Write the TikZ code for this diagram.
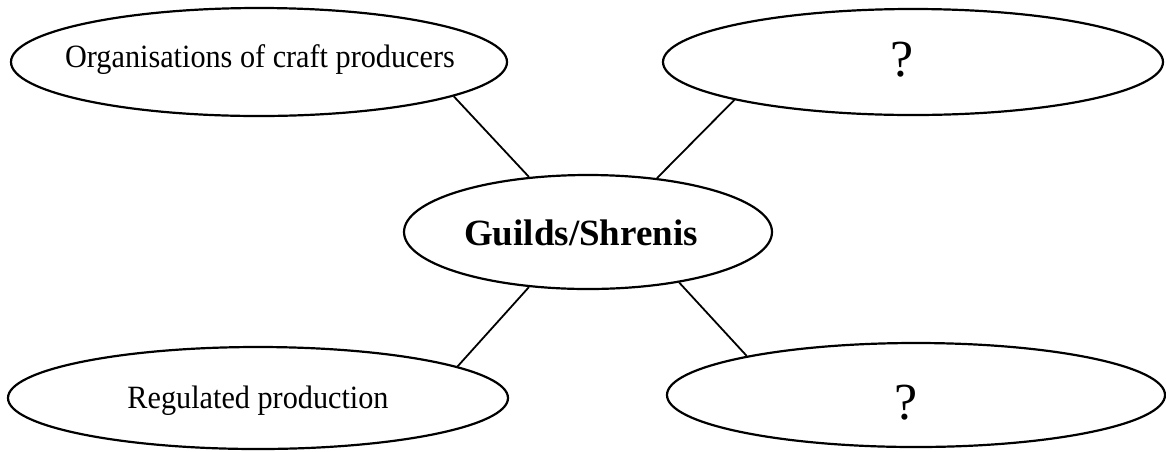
\documentclass[tikz,border=0pt]{standalone}
\usepackage{fontspec}
\setmainfont{Liberation Serif}
\usetikzlibrary{shapes.geometric}
\newcommand{\condensed}[1]{\scalebox{0.93}[1]{#1}}
\begin{document}
\begin{tikzpicture}[x=1pt,y=-1pt,
  oval/.style={draw=black, line width=2.2pt, ellipse, inner sep=0pt, fill=white},
  conn/.style={draw=black, line width=1.8pt},
  lbl/.style={inner sep=0pt, anchor=base, font=\fontsize{32.5}{38}\selectfont},
  qlbl/.style={inner sep=0pt, anchor=base, font=\fontsize{52}{60}\selectfont},
  hub/.style={inner sep=0pt, anchor=base, font=\fontsize{37}{42}\selectfont\bfseries}]
\useasboundingbox[fill=white] (0,0) rectangle (1166,451);
\node[oval, minimum width=496pt, minimum height=108pt] (tl) at (259,62) {};
\node[oval, minimum width=500pt, minimum height=106pt] (tr) at (913,62) {};
\node[oval, minimum width=368pt, minimum height=114pt] (c) at (588,232) {};
\node[oval, minimum width=500pt, minimum height=102pt] (bl) at (258,398) {};
\node[oval, minimum width=498pt, minimum height=104pt] (br) at (916,395) {};
\node[lbl] (tlt) at (260,67) {\condensed{Organisations of craft producers}};
\node[lbl] (blt) at (258,408) {\condensed{Regulated production}};
\node[hub] (ct) at (581,245) {Guilds/Shrenis};
\node[qlbl] (trt) at (902,76) {?};
\node[qlbl] (brt) at (906,419) {?};
\draw[conn] (tl.-10.4) -- (c.137.5);
\draw[conn] (tr.-168.1) -- (c.38.2);
\draw[conn] (bl.9.1) -- (c.223.5);
\draw[conn] (br.167) -- (c.-29.7);
\end{tikzpicture}
\end{document}
